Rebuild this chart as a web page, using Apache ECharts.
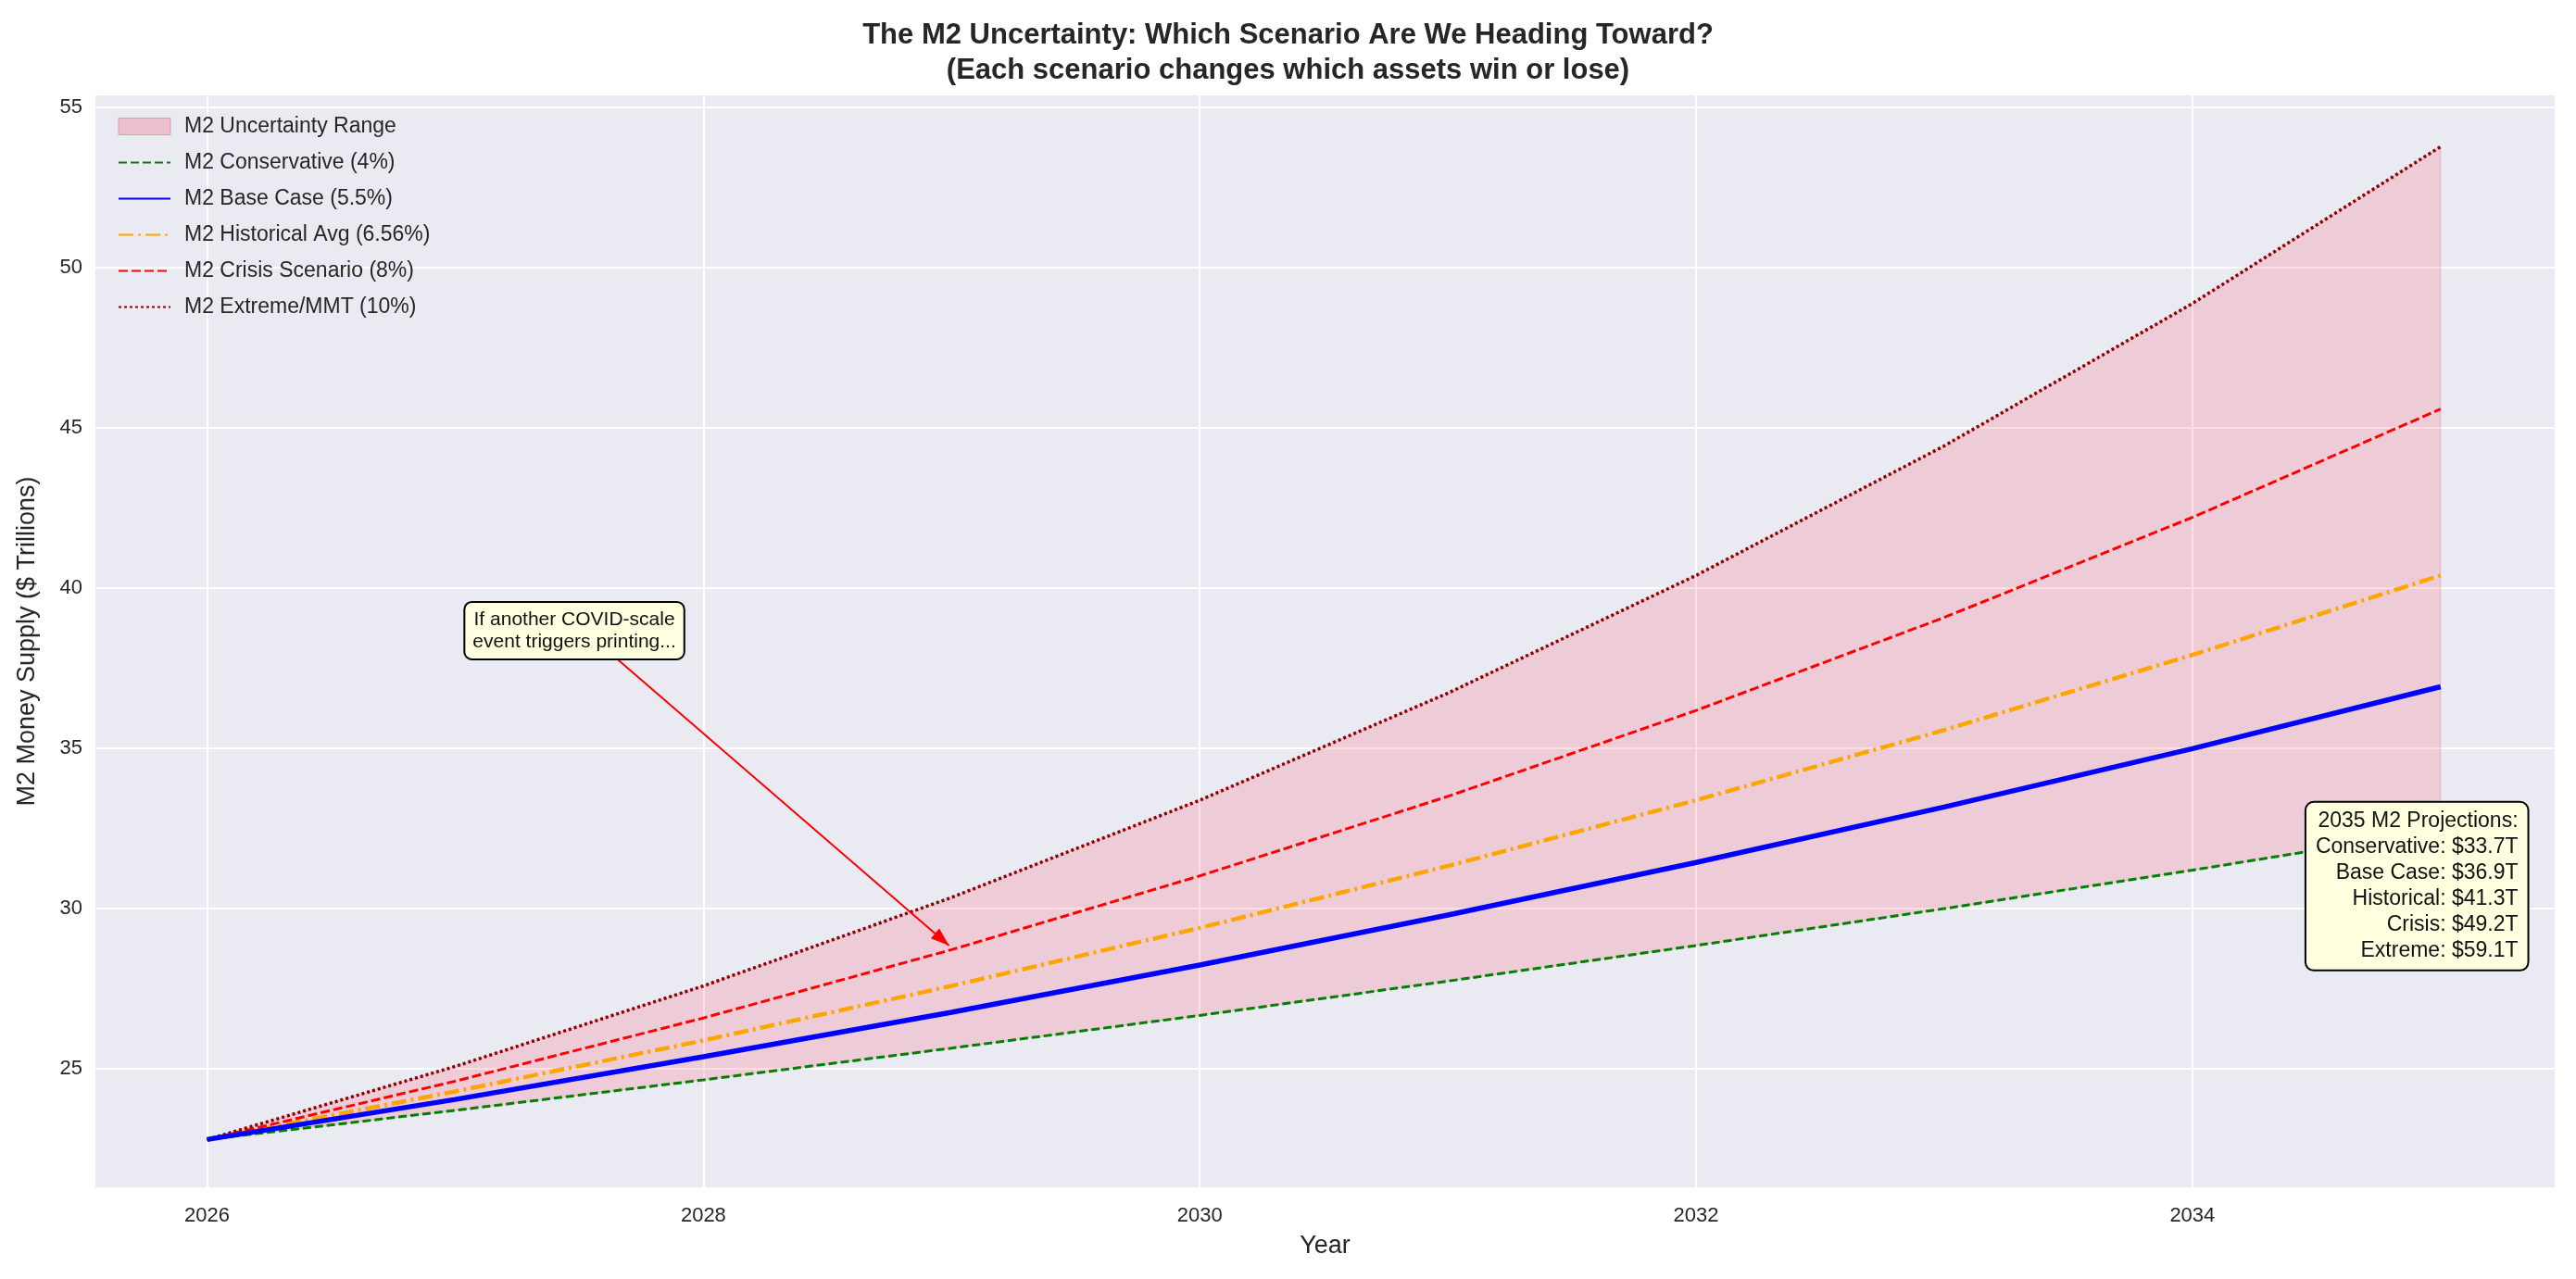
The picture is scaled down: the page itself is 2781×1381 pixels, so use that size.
<!DOCTYPE html>
<html>
<head>
<meta charset="utf-8">
<script src="https://cdn.jsdelivr.net/npm/echarts@6/dist/echarts.min.js"></script>
<style>html,body{margin:0;padding:0;background:#fff}#main{width:2781px;height:1381px}</style>
</head>
<body>
<div id="main"></div>
<script>
var years = [2026, 2027, 2028, 2029, 2030, 2031, 2032, 2033, 2034, 2035];
var conservative = [22.80, 23.71, 24.66, 25.65, 26.67, 27.74, 28.85, 30.00, 31.20, 32.45];
var baseCase = [22.80, 24.05, 25.38, 26.77, 28.24, 29.80, 31.44, 33.17, 34.99, 36.92];
var historical = [22.80, 24.30, 25.89, 27.59, 29.40, 31.33, 33.38, 35.57, 37.91, 40.39];
var crisis = [22.80, 24.62, 26.59, 28.72, 31.02, 33.50, 36.18, 39.08, 42.20, 45.58];
var extreme = [22.80, 25.08, 27.59, 30.35, 33.38, 36.72, 40.39, 44.43, 48.87, 53.76];
var xTicks = [2026, 2028, 2030, 2032, 2034];
var yTicks = [25, 30, 35, 40, 45, 50, 55];
var projText = ['2035 M2 Projections:', 'Conservative: $33.7T', 'Base Case: $36.9T',
  'Historical: $41.3T', 'Crisis: $49.2T', 'Extreme: $59.1T'];

var FONT = 'Liberation Sans, DejaVu Sans, sans-serif';
var chart = echarts.init(document.getElementById('main'));

function pts(arr) { return years.map(function (y, i) { return [y, arr[i]]; }); }
var bandData = years.map(function (y, i) { return [y, conservative[i], extreme[i]]; });

function lineSeries(name, arr, color, width, type, z) {
  return {
    name: name, type: 'line', data: pts(arr), symbol: 'none', z: z || 3,
    lineStyle: { color: color, width: width, type: type },
    itemStyle: { color: color }
  };
}

var option = {
  backgroundColor: '#ffffff',
  animation: false,
  title: {
    text: 'The M2 Uncertainty: Which Scenario Are We Heading Toward?\n(Each scenario changes which assets win or lose)',
    left: 'center', top: 14,
    textStyle: { fontFamily: FONT, fontSize: 31, fontWeight: 'bold', color: '#262626', lineHeight: 38 }
  },
  grid: { left: 103, right: 23, top: 103, bottom: 99, backgroundColor: '#eaeaf2', show: true, borderWidth: 0 },
  legend: {
    orient: 'vertical', left: 122, top: 120, itemGap: 16, itemWidth: 56, itemHeight: 18,
    textStyle: { fontFamily: FONT, fontSize: 23, color: '#262626', padding: [0, 0, 0, 10] },
    itemStyle: { opacity: 0 },
    data: [
      { name: 'M2 Uncertainty Range', icon: 'rect', itemStyle: { opacity: 1, color: 'rgba(240,140,160,0.45)', borderColor: 'rgba(230,110,130,0.6)', borderWidth: 1 } },
      'M2 Conservative (4%)', 'M2 Base Case (5.5%)', 'M2 Historical Avg (6.56%)',
      'M2 Crisis Scenario (8%)', 'M2 Extreme/MMT (10%)'
    ]
  },
  xAxis: {
    type: 'value', min: 2025.55, max: 2035.46, name: 'Year', nameLocation: 'middle', nameGap: 50,
    nameTextStyle: { fontFamily: FONT, fontSize: 27, color: '#262626' },
    axisLine: { show: false }, axisTick: { show: false, customValues: xTicks },
    axisLabel: { customValues: xTicks, fontFamily: FONT, fontSize: 22, color: '#262626', margin: 20, formatter: function (v) { return String(v); } },
    splitLine: { show: true, lineStyle: { color: '#ffffff', width: 2 } }
  },
  yAxis: {
    type: 'value', min: 21.31, max: 55.36, name: 'M2 Money Supply ($ Trillions)', nameLocation: 'middle', nameGap: 60,
    nameTextStyle: { fontFamily: FONT, fontSize: 27, color: '#262626' },
    axisLine: { show: false }, axisTick: { show: false, customValues: yTicks },
    axisLabel: { customValues: yTicks, fontFamily: FONT, fontSize: 22, color: '#262626', margin: 14 },
    splitLine: { show: true, lineStyle: { color: '#ffffff', width: 2 } }
  },
  series: [
    { name: 'M2 Uncertainty Range', type: 'custom', data: bandData, z: 1, silent: true,
      itemStyle: { color: 'rgba(240,140,160,0.45)' },
      encode: { x: 0, y: [1, 2] },
      renderItem: function (params, api) {
        if (params.dataIndex !== 0) return null;
        var lower = [], upper = [];
        for (var i = 0; i < bandData.length; i++) {
          lower.push(api.coord([bandData[i][0], bandData[i][1]]));
          upper.unshift(api.coord([bandData[i][0], bandData[i][2]]));
        }
        return { type: 'polygon', shape: { points: lower.concat(upper) },
          style: { fill: 'rgba(255,60,90,0.17)', stroke: 'rgba(255,60,90,0.25)', lineWidth: 1 } };
      }
    },
    lineSeries('M2 Conservative (4%)', conservative, '#008000', 3, [9, 4]),
    lineSeries('M2 Base Case (5.5%)', baseCase, '#0000ff', 5.5, 'solid', 4),
    lineSeries('M2 Historical Avg (6.56%)', historical, '#ffa500', 4.5, [16, 5, 3, 5]),
    lineSeries('M2 Crisis Scenario (8%)', crisis, '#ff0000', 3, [10, 4]),
    lineSeries('M2 Extreme/MMT (10%)', extreme, '#8b0000', 3.5, [3, 3])
  ]
};
chart.setOption(option);

var boxC = chart.convertToPixel('grid', [2027.48, 38.67]);
var arrowFrom = chart.convertToPixel('grid', [2027.65, 37.8]);
var arrowTo = chart.convertToPixel('grid', [2028.99, 28.85]);
var projC = chart.convertToPixel('grid', [2035.35, 30.7]);
var ang = Math.atan2(arrowTo[1] - arrowFrom[1], arrowTo[0] - arrowFrom[0]);
var hl = 20, hw = 7;
chart.setOption({
  graphic: [
    { type: 'line', z: 50, shape: { x1: arrowFrom[0], y1: arrowFrom[1], x2: arrowTo[0], y2: arrowTo[1] },
      style: { stroke: '#ff0000', lineWidth: 2 } },
    { type: 'polygon', z: 50, shape: { points: [
        arrowTo,
        [arrowTo[0] - hl * Math.cos(ang) + hw * Math.sin(ang), arrowTo[1] - hl * Math.sin(ang) - hw * Math.cos(ang)],
        [arrowTo[0] - hl * Math.cos(ang) - hw * Math.sin(ang), arrowTo[1] - hl * Math.sin(ang) + hw * Math.cos(ang)]
      ] }, style: { fill: '#ff0000' } },
    { type: 'text', z: 60, x: boxC[0], y: boxC[1],
      style: { text: 'If another COVID-scale\nevent triggers printing...', fontFamily: FONT, fontSize: 21, lineHeight: 24,
        fill: '#111', align: 'center', verticalAlign: 'middle', backgroundColor: '#ffffe0',
        borderColor: '#000', borderWidth: 2, borderRadius: 7, padding: [6, 8] } },
    { type: 'text', z: 60, x: projC[0], y: projC[1],
      style: { text: projText.join('\n'), fontFamily: FONT, fontSize: 23, lineHeight: 28,
        fill: '#111', align: 'right', verticalAlign: 'middle', backgroundColor: '#ffffe0',
        borderColor: '#000', borderWidth: 2, borderRadius: 8, padding: [6, 10] } }
  ]
});
</script>
</body>
</html>
